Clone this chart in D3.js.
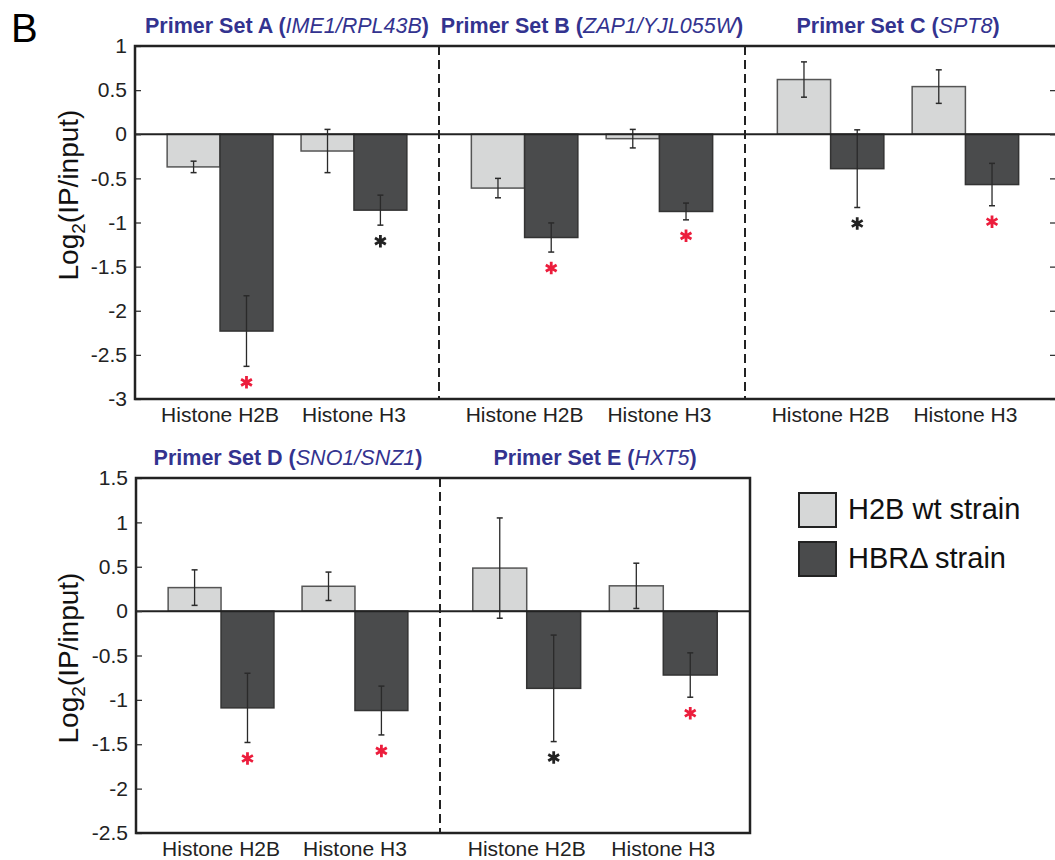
<!DOCTYPE html>
<html>
<head>
<meta charset="utf-8">
<script src="https://cdn.jsdelivr.net/npm/d3@7"></script>
<style>
  body { margin: 0; background: #fff; }
  text { font-family: "Liberation Sans", Arial, sans-serif; }
</style>
</head>
<body>
<script>
// chart data
const setNames = ["Primer Set A", "Primer Set B", "Primer Set C", "Primer Set D", "Primer Set E"];
const geneNames = ["IME1/RPL43B", "ZAP1/YJL055W", "SPT8", "SNO1/SNZ1", "HXT5"];
const categories = ["Histone H2B", "Histone H3"];
const seriesNames = ["H2B wt strain", "HBR\u0394 strain"];

// one row per primer set, columns = categories
const wtValues = [[-0.37, -0.19], [-0.61, -0.05], [0.62, 0.54], [0.265, 0.28], [0.485, 0.285]];
const wtErrors = [[0.065, 0.245], [0.11, 0.105], [0.20, 0.19], [0.20, 0.16], [0.565, 0.255]];
const hbrValues = [[-2.23, -0.86], [-1.17, -0.875], [-0.39, -0.57], [-1.09, -1.12], [-0.87, -0.72]];
const hbrErrors = [[0.40, 0.17], [0.165, 0.095], [0.44, 0.24], [0.39, 0.275], [0.60, 0.25]];
// significance star colour under each HBR bar
const starKind = [["red", "black"], ["red", "red"], ["black", "red"], ["red", "red"], ["black", "red"]];

const fills = ["#d6d7d7", "#4a4b4c"];
const strokes = ["#555", "#333"];
const titleColor = "#33338f";

const svg = d3.select("body").append("svg")
    .attr("width", 1055)
    .attr("height", 860);

// panel B letter
svg.append("text")
    .attr("x", 11).attr("y", 42)
    .style("font-size", "40px")
    .text("B");

// layout of the two rows of panels
const panels = [
    { sets: [0, 1, 2], left: 135, top: 46, bottom: 399, widths: [304, 306, 306], right: 1058,
      domain: [-3, 1], rightTicks: true, labelY: 195 },
    { sets: [3, 4], left: 136, top: 478, bottom: 833, widths: [304, 310], right: 750,
      domain: [-2.5, 1.5], rightTicks: false, labelY: 658 }
];

panels.forEach(p => {
    const y = d3.scaleLinear().domain(p.domain).range([p.bottom, p.top]);
    const tickVals = d3.range(p.domain[0], p.domain[1] + 0.001, 0.5);
    const g = svg.append("g");

    let x0 = p.left;
    p.sets.forEach((si, k) => {
        const w = p.widths[k];
        const xb = d3.scaleBand().domain(categories)
            .range([x0, x0 + w]).paddingInner(0.21).paddingOuter(0.24);
        const xs = d3.scaleBand().domain([0, 1]).range([0, xb.bandwidth()]);

        // bars: series 0 = wt, series 1 = HBR delta
        const rows = [];
        categories.forEach((c, ci) => {
            rows.push({ c: c, s: 0, v: wtValues[si][ci], e: wtErrors[si][ci] });
            rows.push({ c: c, s: 1, v: hbrValues[si][ci], e: hbrErrors[si][ci], star: starKind[si][ci] });
        });

        g.selectAll(null).data(rows).enter().append("rect")
            .attr("x", d => xb(d.c) + xs(d.s))
            .attr("y", d => y(Math.max(d.v, 0)))
            .attr("width", xs.bandwidth())
            .attr("height", d => Math.abs(y(d.v) - y(0)))
            .attr("fill", d => fills[d.s])
            .attr("stroke", d => strokes[d.s])
            .attr("stroke-width", 1.5);

        // error bars
        const cx = d => xb(d.c) + xs(d.s) + xs.bandwidth() / 2;
        g.selectAll(null).data(rows).enter().append("line")
            .attr("x1", cx).attr("x2", cx)
            .attr("y1", d => y(d.v + d.e)).attr("y2", d => y(d.v - d.e))
            .attr("stroke", "#2a2a2a").attr("stroke-width", 1.3);
        ["+", "-"].forEach(side => {
            g.selectAll(null).data(rows).enter().append("line")
                .attr("x1", d => cx(d) - 3).attr("x2", d => cx(d) + 3)
                .attr("y1", d => y(side === "+" ? d.v + d.e : d.v - d.e))
                .attr("y2", d => y(side === "+" ? d.v + d.e : d.v - d.e))
                .attr("stroke", "#2a2a2a").attr("stroke-width", 1.5);
        });

        // stars
        g.selectAll(null).data(rows.filter(d => d.s === 1)).enter().append("path")
            .attr("d", d3.symbol(d3.symbolAsterisk, 110))
            .attr("transform", d => `translate(${cx(d)},${y(d.v - d.e) + 16})`)
            .attr("fill", "none")
            .attr("stroke", d => d.star === "red" ? "#ec1d3c" : "#222")
            .attr("stroke-width", 2.8);

        // category labels
        g.selectAll(null).data(categories).enter().append("text")
            .attr("x", c => xb(c) + xb.bandwidth() / 2)
            .attr("y", p.bottom + 23)
            .attr("text-anchor", "middle")
            .style("font-size", "21px")
            .attr("fill", "#222")
            .text(c => c);

        // title
        const t = g.append("text")
            .attr("x", x0 + w / 2)
            .attr("y", p.top - 13)
            .attr("text-anchor", "middle")
            .attr("fill", titleColor)
            .style("font-size", "21.5px");
        t.append("tspan").style("font-weight", "bold").text(setNames[si] + " (");
        t.append("tspan").style("font-style", "italic").text(geneNames[si]);
        t.append("tspan").style("font-weight", "bold").text(")");

        // dashed divider
        if (k > 0) {
            g.append("line")
                .attr("x1", x0).attr("x2", x0)
                .attr("y1", p.top).attr("y2", p.bottom)
                .attr("stroke", "#222").attr("stroke-width", 2)
                .attr("stroke-dasharray", "9,5");
        }
        x0 += w;
    });

    // zero line
    g.append("line")
        .attr("x1", p.left).attr("x2", p.right)
        .attr("y1", y(0)).attr("y2", y(0))
        .attr("stroke", "#222").attr("stroke-width", 2);

    // y axis, ticks pointing inward
    const ax = g.append("g")
        .attr("transform", `translate(${p.left},0)`)
        .call(d3.axisLeft(y).tickValues(tickVals).tickSize(-6).tickPadding(8).tickFormat(d => String(d)));
    ax.select(".domain").remove();
    ax.selectAll("text").style("font-size", "21px").attr("fill", "#222").style("font-family", "Liberation Sans, Arial, sans-serif");
    ax.selectAll("line").attr("stroke", "#333").attr("stroke-width", 1.3);

    if (p.rightTicks) {
        const axr = g.append("g")
            .attr("transform", `translate(${p.right},0)`)
            .call(d3.axisRight(y).tickValues(tickVals).tickSize(-8).tickFormat(""));
        axr.select(".domain").remove();
        axr.selectAll("line").attr("stroke", "#333").attr("stroke-width", 1.3);
    }

    // frame
    g.append("rect")
        .attr("x", p.left).attr("y", p.top)
        .attr("width", p.right - p.left).attr("height", p.bottom - p.top)
        .attr("fill", "none").attr("stroke", "#222").attr("stroke-width", 2.5);

    // y label
    const yl = g.append("text")
        .attr("transform", `translate(78,${p.labelY}) rotate(-90)`)
        .attr("text-anchor", "middle")
        .attr("fill", "#111")
        .style("font-size", "28px");
    yl.append("tspan").text("Log");
    yl.append("tspan").attr("dy", 7).style("font-size", "19px").text("2");
    yl.append("tspan").attr("dy", -7).text("(IP/input)");
});

// legend
const lg = svg.append("g").attr("transform", "translate(799,493)");
seriesNames.forEach((name, i) => {
    lg.append("rect")
        .attr("x", 0).attr("y", i * 49)
        .attr("width", 37).attr("height", 34)
        .attr("fill", fills[i]).attr("stroke", "#222").attr("stroke-width", 2);
    lg.append("text")
        .attr("x", 49).attr("y", i * 49 + 26)
        .style("font-size", "29px")
        .attr("fill", "#111")
        .text(name);
});
</script>
</body>
</html>
